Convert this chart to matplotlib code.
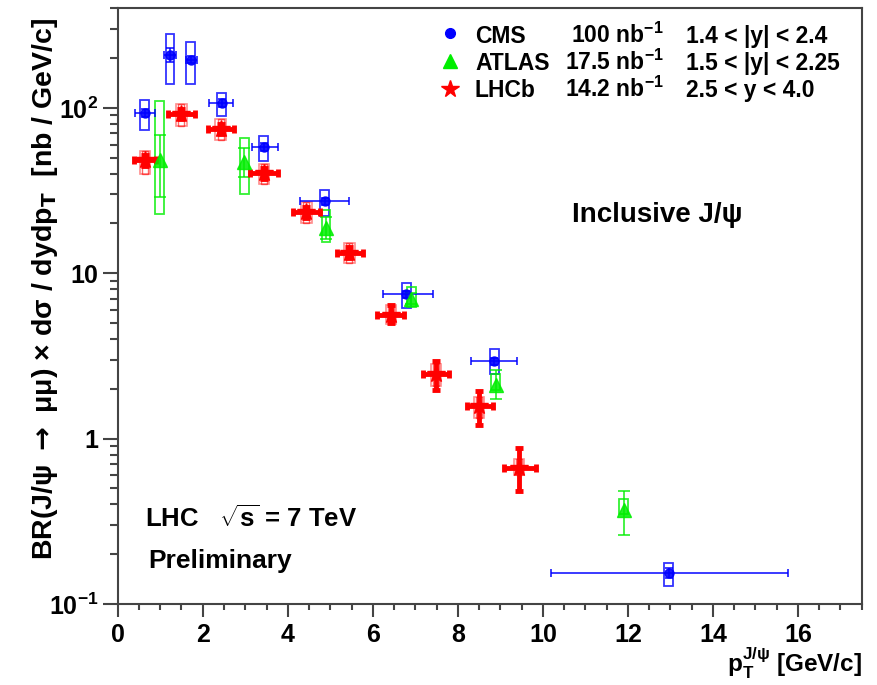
import matplotlib.pyplot as plt
import numpy as np
from matplotlib.patches import Rectangle
from matplotlib.ticker import FixedLocator, FixedFormatter, MultipleLocator

plt.rcParams['font.family'] = ['Liberation Sans', 'DejaVu Sans']
plt.rcParams['font.weight'] = 'bold'
plt.rcParams['mathtext.fontset'] = 'custom'
plt.rcParams['mathtext.rm'] = 'Liberation Sans:bold'
plt.rcParams['mathtext.it'] = 'Liberation Sans:bold'
plt.rcParams['mathtext.bf'] = 'Liberation Sans:bold'

# CMS  (100 nb-1, 1.4<|y|<2.4)
cms_x = [0.64, 1.23, 1.72, 2.45, 3.44, 4.87, 6.79, 8.86, 12.96]
cms_y = [93, 210, 196, 107, 58.1, 27.3, 7.45, 2.94, 0.154]
cms_xlo = [0.41, 1.10, 1.60, 2.15, 3.15, 4.29, 6.25, 8.31, 10.18]
cms_xhi = [0.88, 1.37, 1.87, 2.72, 3.76, 5.45, 7.42, 9.40, 15.77]
cms_stat_lo = [88, 190, 186, 101, 55, 26, 7.1, 2.8, 0.143]
cms_stat_hi = [98, 229, 206, 113, 61, 28.6, 7.8, 3.08, 0.166]
cms_sys_lo = [73.3, 140, 140, 89.5, 47.8, 22.2, 6.15, 2.45, 0.128]
cms_sys_hi = [111, 278, 250, 123, 67.5, 32, 8.77, 3.46, 0.178]

# ATLAS (17.5 nb-1, 1.5<|y|<2.25)
atlas_x = [0.99, 2.98, 4.90, 6.90, 8.89, 11.90]
atlas_y = [48.3, 47.2, 18.9, 7.03, 2.12, 0.371]
atlas_stat_lo = [28.9, 38.3, 16.2, 6.5, 1.73, 0.26]
atlas_stat_hi = [69, 57.3, 22, 7.6, 2.6, 0.48]
atlas_sys_lo = [22.9, 30, 15.5, 6.28, 1.98, 0.35]
atlas_sys_hi = [109.8, 65.9, 24.1, 8.3, 2.46, 0.43]

# LHCb (14.2 nb-1, 2.5<y<4.0)
lhcb_x = [0.64, 1.50, 2.42, 3.44, 4.44, 5.45, 6.42, 7.48, 8.50, 9.44]
lhcb_y = [48.2, 92, 74.7, 40.3, 23.3, 13.3, 5.63, 2.46, 1.58, 0.668]
lhcb_xlo = [0.39, 1.19, 2.12, 3.11, 4.13, 5.15, 6.11, 7.19, 8.21, 9.09]
lhcb_xhi = [0.90, 1.82, 2.73, 3.76, 4.77, 5.78, 6.74, 7.80, 8.82, 9.83]
lhcb_stat_lo = [44.5, 86, 69.5, 37.3, 21.5, 12.3, 5.0, 1.98, 1.21, 0.48]
lhcb_stat_hi = [52, 98, 80, 43.5, 25.2, 14.4, 6.4, 2.94, 1.95, 0.877]
lhcb_sys_lo = [39.8, 77.5, 63.8, 34.5, 20.1, 11.6, 4.9, 2.07, 1.34, 0.60]
lhcb_sys_hi = [54.8, 106, 85.4, 45.6, 27.1, 15.2, 6.4, 2.84, 1.79, 0.75]

ytick_vals = [0.1, 1, 10, 100]
ytick_text = ['10$^{-1}$', '1', '10', '10$^{2}$']

BLUE = '#0000ff'
GREEN = '#00ee00'
RED = '#ff0000'

fig = plt.figure(figsize=(8.77, 6.85), dpi=100)
ax = fig.add_axes([0.1342, 0.1182, 0.8484, 0.8697])
ax.set_yscale('log')
ax.set_xlim(0, 17.5)
ax.set_ylim(0.1, 400)


def sys_boxes(xs, lo, hi, hw, color, lw=1.3, alpha=0.8):
    for x, l, h in zip(xs, lo, hi):
        ax.add_patch(Rectangle((x - hw, l), 2 * hw, h - l, fill=False,
                               edgecolor=color, lw=lw, alpha=alpha, zorder=2))


def asym(vals, lo, hi):
    v = np.array(vals)
    return [v - np.array(lo), np.array(hi) - v]


# systematic boxes
sys_boxes(cms_x, cms_sys_lo, cms_sys_hi, 0.105, BLUE)
sys_boxes(atlas_x, atlas_sys_lo, atlas_sys_hi, 0.105, GREEN)
sys_boxes(lhcb_x, lhcb_sys_lo, lhcb_sys_hi, 0.12, RED, lw=1.2, alpha=0.45)
sys_boxes(lhcb_x, lhcb_sys_lo, lhcb_sys_hi, 0.07, RED, lw=1.0, alpha=0.6)

# CMS
ax.errorbar(cms_x, cms_y, xerr=asym(cms_x, cms_xlo, cms_xhi),
            yerr=asym(cms_y, cms_stat_lo, cms_stat_hi),
            fmt='o', color=BLUE, ms=6.5, lw=1.2, capsize=3, capthick=1.2,
            alpha=0.9, zorder=4)

# ATLAS
ax.errorbar(atlas_x, atlas_y, yerr=asym(atlas_y, atlas_stat_lo, atlas_stat_hi),
            fmt='^', color=GREEN, ms=10, lw=1.2, capsize=4, capthick=1.2,
            alpha=0.85, zorder=4)

# LHCb
ax.errorbar(lhcb_x, lhcb_y, xerr=asym(lhcb_x, lhcb_xlo, lhcb_xhi),
            yerr=asym(lhcb_y, lhcb_stat_lo, lhcb_stat_hi),
            fmt='*', color=RED, ms=13, lw=3.5, capsize=3, capthick=3.5,
            zorder=4)

# axes style
for sp in ax.spines.values():
    sp.set_color('#444444')
    sp.set_linewidth(1.5)
ax.xaxis.set_major_locator(FixedLocator([0, 2, 4, 6, 8, 10, 12, 14, 16]))
ax.xaxis.set_minor_locator(MultipleLocator(0.5))
ax.yaxis.set_major_locator(FixedLocator(ytick_vals))
ax.yaxis.set_major_formatter(FixedFormatter(ytick_text))
ax.yaxis.set_minor_locator(FixedLocator(
    [m * 10.0 ** e for e in range(-1, 3) for m in range(2, 10)]))
ax.yaxis.set_minor_formatter(FixedFormatter([]))
ax.tick_params(axis='both', which='both', direction='out', color='#444444',
               width=1.5, top=False, right=False)
ax.tick_params(axis='y', which='major', length=11, labelsize=18, pad=3)
ax.tick_params(axis='y', which='minor', length=5.5)
ax.tick_params(axis='x', which='major', length=9, labelsize=18, pad=5)
ax.tick_params(axis='x', which='minor', length=4.5)

ylab = ax.set_ylabel('BR(J/ψ $\\rightarrow$ μμ) × dσ / dydp$_\\mathbf{T}$  [nb / GeV/c]',
                     fontsize=20.5, fontweight='bold', loc='top')
ylab.set_math_fontfamily('dejavusans')
ax.yaxis.set_label_coords(-0.078, 0.985)
ax.set_xlabel('p$_\\mathrm{T}^\\mathrm{J/ψ}$ [GeV/c]', fontsize=17.5,
              fontweight='bold', loc='right', labelpad=-1)

# legend built by hand
rows = [('CMS', '100 nb$^{-1}$', '1.4 < |y| < 2.4', 'o', BLUE, 7),
        ('ATLAS', '17.5 nb$^{-1}$', '1.5 < |y| < 2.25', '^', GREEN, 10),
        ('LHCb', '14.2 nb$^{-1}$', '2.5 < y < 4.0', '*', RED, 13)]
for i, (name, lumi, rap, mk, col, ms) in enumerate(rows):
    yf = 1 - (33.3 + 28 * i) / 685
    fig.lines.append(plt.Line2D([450 / 877], [yf], marker=mk, color=col,
                                ms=ms, transform=fig.transFigure, ls=''))
    yt = 1 - (42.7 + 27 * i) / 685
    fig.text(475 / 877, yt, name, fontsize=16.5, fontweight='bold',
             va='baseline')
    fig.text(664 / 877, yt, lumi, fontsize=16.5, fontweight='bold',
             va='baseline', ha='right')
    fig.text(686 / 877, yt, rap, fontsize=16.5, fontweight='bold',
             va='baseline')

fig.text(572 / 877, 1 - 222 / 685, 'Inclusive J/ψ', fontsize=20,
         fontweight='bold', va='baseline')
fig.text(145 / 877, 1 - 527 / 685, 'LHC   $\\sqrt{\\mathrm{s}}$ = 7 TeV',
         fontsize=18.5, fontweight='bold', va='baseline')
fig.text(148 / 877, 1 - 568 / 685, 'Preliminary', fontsize=19,
         fontweight='bold', va='baseline')

fig.savefig('out.png', dpi=100)
